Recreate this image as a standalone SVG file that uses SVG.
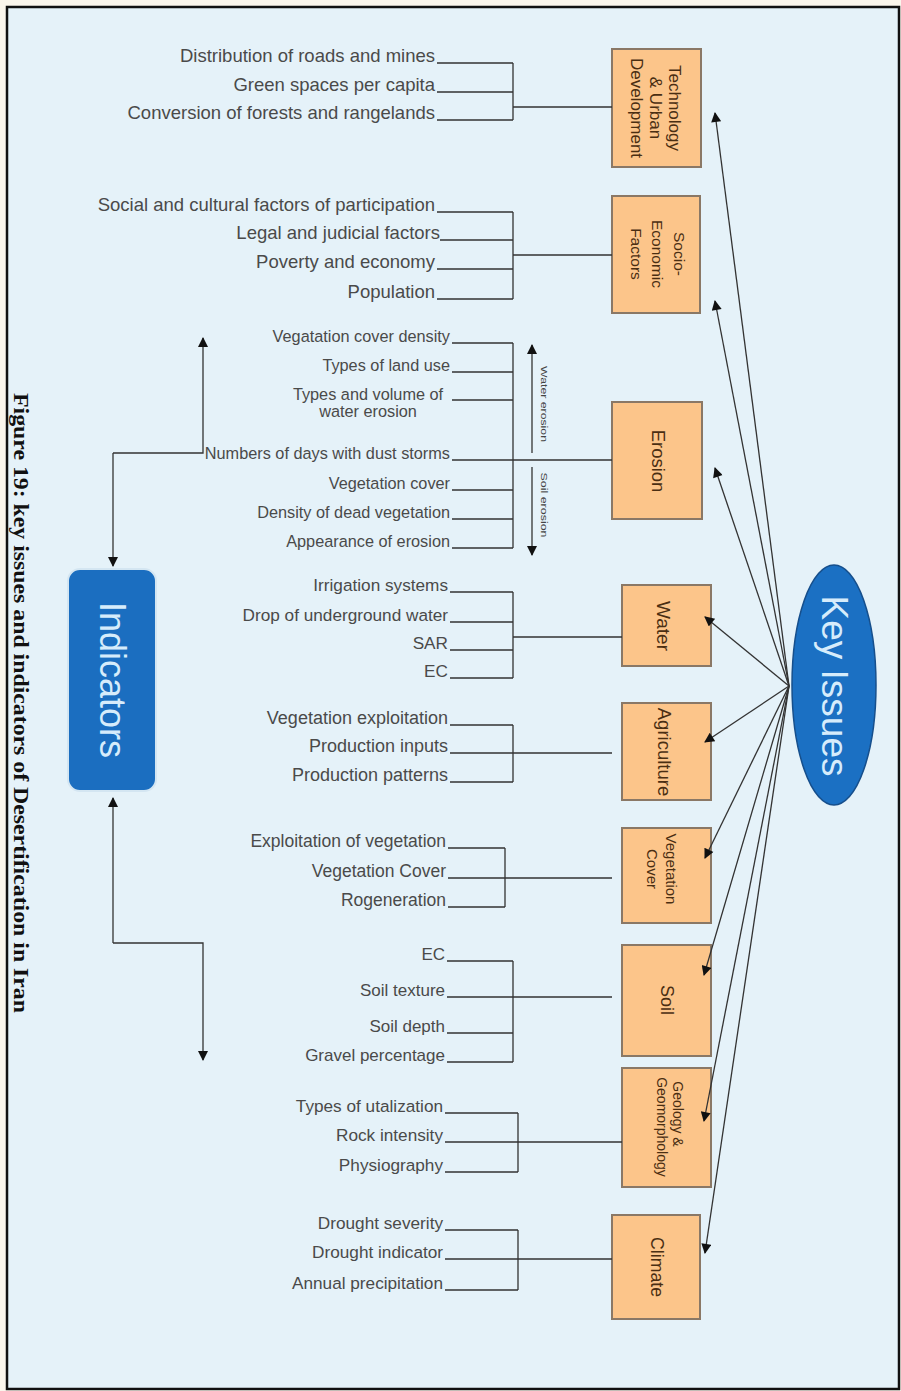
<svg xmlns="http://www.w3.org/2000/svg" width="901" height="1391" viewBox="0 0 901 1391">
<defs>
<marker id="ah" viewBox="0 0 10 10" refX="9" refY="5" markerWidth="12" markerHeight="10" markerUnits="userSpaceOnUse" orient="auto"><path d="M0,0 L10,5 L0,10 z" fill="#111"/></marker>
<style>
.ind{font-family:"Liberation Sans",Arial,sans-serif;fill:#4a4a4a;text-anchor:end}
.ln{stroke:#333;stroke-width:1.3;fill:none}
.box{fill:#fcc58a;stroke:#8a7866;stroke-width:2}
.bt{font-family:"Liberation Sans",Arial,sans-serif;fill:#4a2e12;text-anchor:middle;dominant-baseline:central}
.ka{stroke:#333;stroke-width:1.3;fill:none;marker-end:url(#ah)}
.big{font-family:"Liberation Sans",Arial,sans-serif;fill:#d6ecfb;text-anchor:middle;dominant-baseline:central}
.s185{font-size:18.5px}.s163{font-size:16.3px}.s172{font-size:17.2px}.s18{font-size:18px}.s175{font-size:17.5px}.s17{font-size:17px}
</style>
</defs>
<rect x="0" y="0" width="901" height="1391" fill="#fbf6ec"/>
<rect x="7" y="7" width="892" height="1382" fill="#e5f2f9" stroke="#111" stroke-width="2.5"/>

<text transform="translate(14,703) rotate(90)" text-anchor="middle" font-family="Liberation Serif,serif" font-weight="bold" font-size="21" fill="#111" textLength="620" lengthAdjust="spacingAndGlyphs">Figure 19: key issues and indicators of Desertification in Iran</text>

<g id="erosion-labels" font-family="Liberation Sans,Arial,sans-serif" font-size="9" fill="#444" text-anchor="middle">
<text transform="translate(541,404) rotate(90)" textLength="76" lengthAdjust="spacingAndGlyphs">Water erosion</text>
<text transform="translate(541,505) rotate(90)" textLength="65" lengthAdjust="spacingAndGlyphs">Soil erosion</text>
</g>

<g id="ind-tech" class="ind s185">
<text x="435" y="62">Distribution of roads and mines</text>
<text x="435" y="91">Green spaces per capita</text>
<text x="435" y="119">Conversion of forests and rangelands</text>
</g>
<g id="ind-socio" class="ind s185">
<text x="435" y="211">Social and cultural factors of participation</text>
<text x="440" y="239">Legal and judicial factors</text>
<text x="435" y="268">Poverty and economy</text>
<text x="435" y="298">Population</text>
</g>
<g id="ind-erosion" class="ind s163">
<text x="450" y="342">Vegatation cover density</text>
<text x="450" y="371">Types of land use</text>
<text x="368" y="400" text-anchor="middle">Types and volume of</text>
<text x="368" y="417" text-anchor="middle">water erosion</text>
<text x="450" y="459">Numbers of days with dust storms</text>
<text x="450" y="489">Vegetation cover</text>
<text x="450" y="518">Density of dead vegetation</text>
<text x="450" y="547">Appearance of erosion</text>
</g>
<g id="ind-water" class="ind s172">
<text x="448" y="591">Irrigation systems</text>
<text x="448" y="621">Drop of underground water</text>
<text x="448" y="649">SAR</text>
<text x="448" y="677">EC</text>
</g>
<g id="ind-agri" class="ind s18">
<text x="448" y="724">Vegetation exploitation</text>
<text x="448" y="752">Production inputs</text>
<text x="448" y="781">Production patterns</text>
</g>
<g id="ind-veg" class="ind s175">
<text x="446" y="847">Exploitation of vegetation</text>
<text x="446" y="877">Vegetation Cover</text>
<text x="446" y="906">Rogeneration</text>
</g>
<g id="ind-soil" class="ind s17">
<text x="445" y="960">EC</text>
<text x="445" y="996">Soil texture</text>
<text x="445" y="1032">Soil depth</text>
<text x="445" y="1061">Gravel percentage</text>
</g>
<g id="ind-geo" class="ind s172">
<text x="443" y="1112">Types of utalization</text>
<text x="443" y="1141">Rock intensity</text>
<text x="443" y="1171">Physiography</text>
</g>
<g id="ind-climate" class="ind s172">
<text x="443" y="1229">Drought severity</text>
<text x="443" y="1258">Drought indicator</text>
<text x="443" y="1289">Annual precipitation</text>
</g>

<g id="node-tech">
<rect class="box" x="612" y="49" width="89" height="118"/>
<text class="bt" font-size="17" transform="translate(656,108) rotate(90)"><tspan x="0" y="-19">Technology</tspan><tspan x="0" y="0">&amp; Urban</tspan><tspan x="0" y="19">Development</tspan></text>
</g>
<g id="node-socio">
<rect class="box" x="612" y="196" width="88" height="117"/>
<text class="bt" font-size="15.5" transform="translate(658,254) rotate(90)"><tspan x="0" y="-22">Socio-</tspan><tspan x="0" y="0">Economic</tspan><tspan x="0" y="21">Factors</tspan></text>
</g>
<g id="node-erosion">
<rect class="box" x="612" y="402" width="90" height="117"/>
<text class="bt" font-size="18.5" transform="translate(658,461) rotate(90)">Erosion</text>
</g>
<g id="node-water">
<rect class="box" x="622" y="585" width="89" height="81"/>
<text class="bt" font-size="19" transform="translate(663,626) rotate(90)">Water</text>
</g>
<g id="node-agri">
<rect class="box" x="622" y="703" width="89" height="97"/>
<text class="bt" font-size="18.5" transform="translate(664,752) rotate(90)">Agriculture</text>
</g>
<g id="node-veg">
<rect class="box" x="622" y="828" width="89" height="95"/>
<text class="bt" font-size="15" transform="translate(662,869) rotate(90)"><tspan x="0" y="-10">Vegetation</tspan><tspan x="0" y="9">Cover</tspan></text>
</g>
<g id="node-soil">
<rect class="box" x="622" y="945" width="89" height="111"/>
<text class="bt" font-size="18" transform="translate(667,1000) rotate(90)">Soil</text>
</g>
<g id="node-geo">
<rect class="box" x="622" y="1068" width="89" height="119"/>
<text class="bt" font-size="14" transform="translate(670,1122) rotate(90)"><tspan x="-8" y="-8">Geology &amp;</tspan><tspan x="5" y="8">Geomorphology</tspan></text>
</g>
<g id="node-climate">
<rect class="box" x="612" y="1215" width="88" height="104"/>
<text class="bt" font-size="17.7" transform="translate(657,1267) rotate(90)">Climate</text>
</g>

<g id="node-keyissues">
<ellipse cx="834" cy="685" rx="42" ry="120" fill="#1b70c3" stroke="#164f8c" stroke-width="1.5"/>
<text class="big" font-size="37" transform="translate(834,686) rotate(90)">Key Issues</text>
</g>
<g id="node-indicators">
<rect x="68" y="569" width="88" height="222" rx="12" fill="#1b6ec0" stroke="#d4e6f2" stroke-width="2"/>
<text class="big" font-size="36" transform="translate(112,680) rotate(90)">Indicators</text>
</g>

<g id="connectors">
<path class="ln" d="M437,63H513M437,92H513M437,120H513M513,63V120M513,107H612"/>
<path class="ln" d="M437,212H513M440,240H513M437,269H513M437,299H513M513,212V299M513,255H612"/>
<path class="ln" d="M452,343H513M452,372H513M452,400H513M452,460H612M452,490H513M452,519H513M452,548H513M513,343V548"/>
<path class="ln" d="M450,592H513M450,622H513M450,650H513M450,678H513M513,592V678M513,637H622"/>
<path class="ln" d="M450,725H513M450,753H612M450,782H513M513,725V782"/>
<path class="ln" d="M448,848H505M448,878H612M448,907H505M505,848V907"/>
<path class="ln" d="M447,961H513M447,997H612M447,1033H513M447,1062H513M513,961V1062"/>
<path class="ln" d="M445,1113H518M445,1142H622M445,1172H518M518,1113V1172"/>
<path class="ln" d="M445,1230H518M445,1259H612M445,1290H518M518,1230V1290"/>
<path class="ka" d="M532,453V345"/>
<path class="ka" d="M532,467V555"/>
<path class="ka" d="M113,453H203V338"/>
<path class="ka" d="M113,453V566"/>
<path class="ka" d="M113,943V798"/>
<path class="ka" d="M113,943H203V1060"/>
<path class="ka" d="M789,686L715,113"/>
<path class="ka" d="M789,686L715,301"/>
<path class="ka" d="M789,686L715,468"/>
<path class="ka" d="M789,686L705,617"/>
<path class="ka" d="M789,686L705,742"/>
<path class="ka" d="M789,686L705,858"/>
<path class="ka" d="M789,686L704,975"/>
<path class="ka" d="M789,686L704,1121"/>
<path class="ka" d="M789,686L705,1253"/>
</g>
</svg>
